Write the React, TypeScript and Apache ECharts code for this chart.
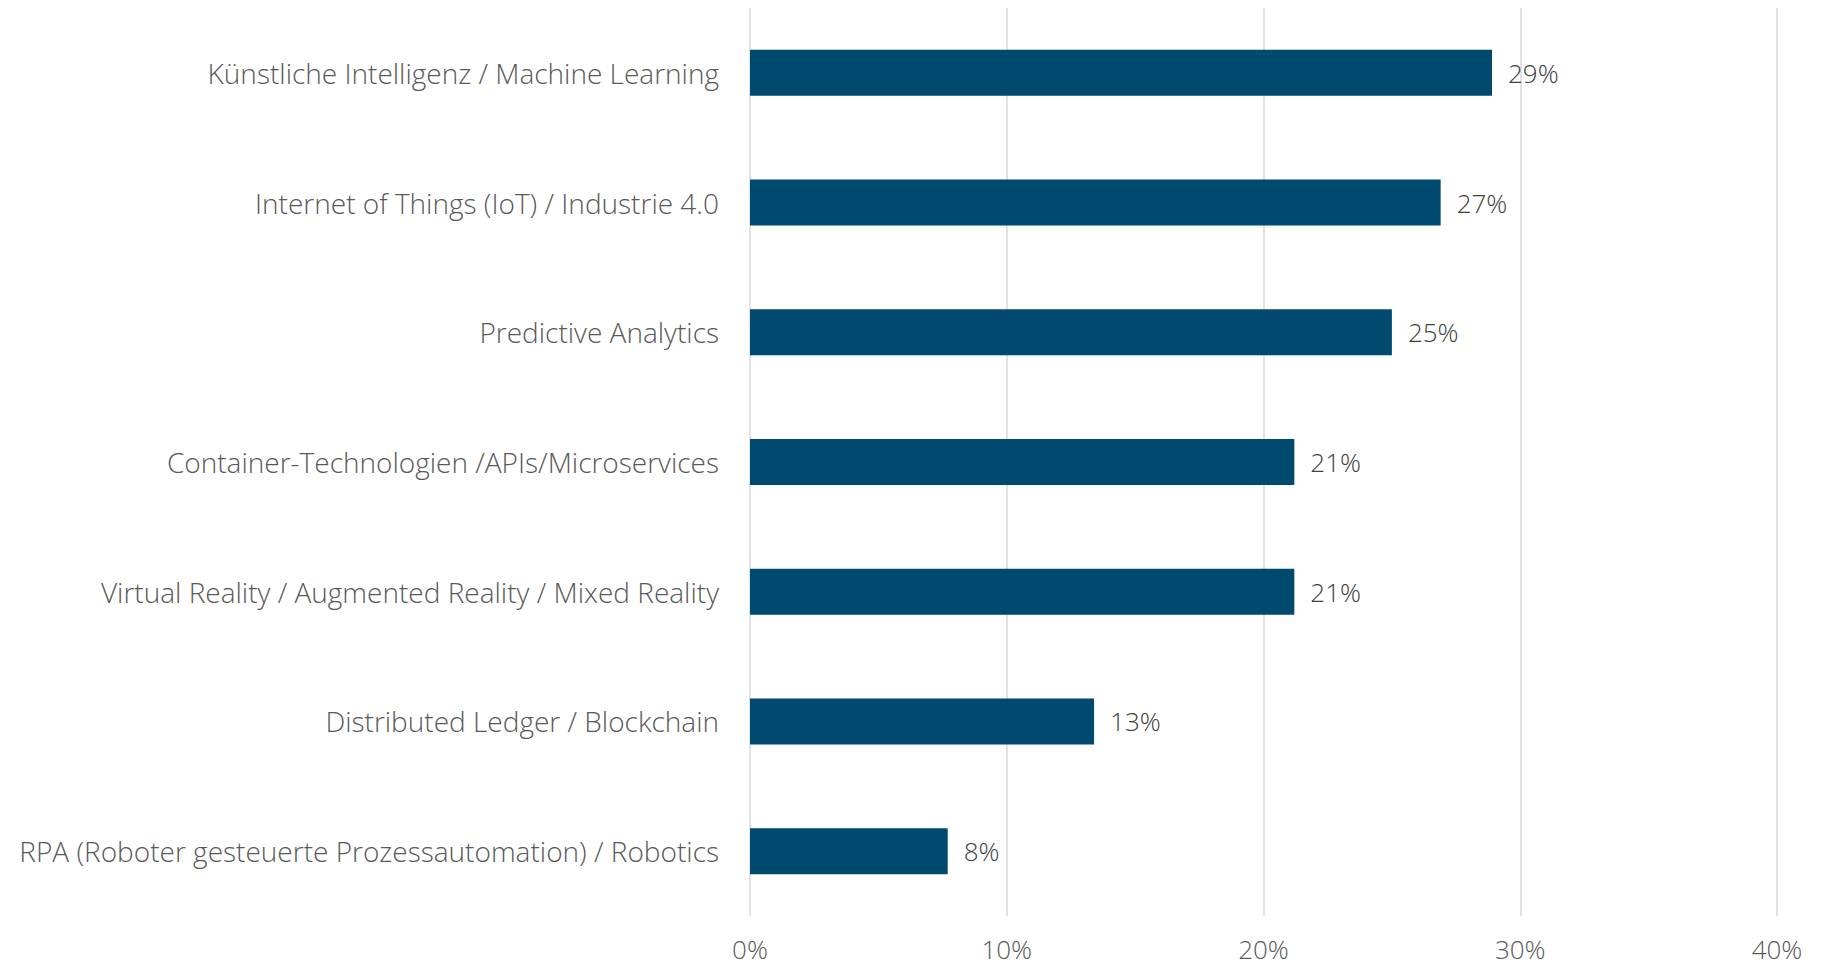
import React, { useEffect, useRef } from "react";
import * as echarts from "echarts";

const categories = [
  "Künstliche Intelligenz / Machine Learning",
  "Internet of Things (IoT) / Industrie 4.0",
  "Predictive Analytics",
  "Container-Technologien /APIs/Microservices",
  "Virtual Reality / Augmented Reality / Mixed Reality",
  "Distributed Ledger / Blockchain",
  "RPA (Roboter gesteuerte Prozessautomation) / Robotics",
];
const values = [28.9, 26.9, 25.0, 21.2, 21.2, 13.4, 7.7];
const axisTicks = [0, 10, 20, 30, 40];

const FONT = "'Open Sans', 'Noto Sans', sans-serif";

export default function App() {
  const ref = useRef<HTMLDivElement>(null);
  useEffect(() => {
    if (!ref.current) return;
    const chart = echarts.init(ref.current, undefined, { renderer: "svg" });
    chart.setOption({
      animation: false,
      backgroundColor: "#ffffff",
      grid: { left: 750, right: 44, top: 8, bottom: 52, containLabel: false },
      xAxis: {
        type: "value",
        min: axisTicks[0],
        max: axisTicks[axisTicks.length - 1],
        interval: 10,
        axisLine: { show: false },
        axisTick: { show: false },
        splitLine: { show: true, lineStyle: { color: "#D9D9D9", width: 1.5 } },
        axisLabel: {
          formatter: "{value}%",
          fontFamily: FONT,
          fontWeight: 300,
          fontSize: 26,
          lineHeight: 26,
          color: "#595959",
          margin: 20,
        },
      },
      yAxis: {
        type: "category",
        inverse: true,
        data: categories,
        axisLine: { show: false },
        axisTick: { show: false },
        axisLabel: {
          fontFamily: FONT,
          fontWeight: 300,
          fontSize: 28,
          color: "#595959",
          margin: 31,
        },
      },
      series: [
        {
          type: "bar",
          data: values,
          barWidth: 46,
          itemStyle: { color: "#00496F" },
          label: {
            show: true,
            position: "right",
            distance: 16,
            formatter: (p: any) => `${Math.round(p.value)}%`,
            fontFamily: FONT,
            fontWeight: 300,
            fontSize: 26,
            color: "#404040",
          },
        },
      ],
    });
    return () => chart.dispose();
  }, []);
  return (
    <div
      ref={ref}
      style={{ position: "fixed", left: 0, top: 0, width: 1821, height: 968 }}
    />
  );
}
